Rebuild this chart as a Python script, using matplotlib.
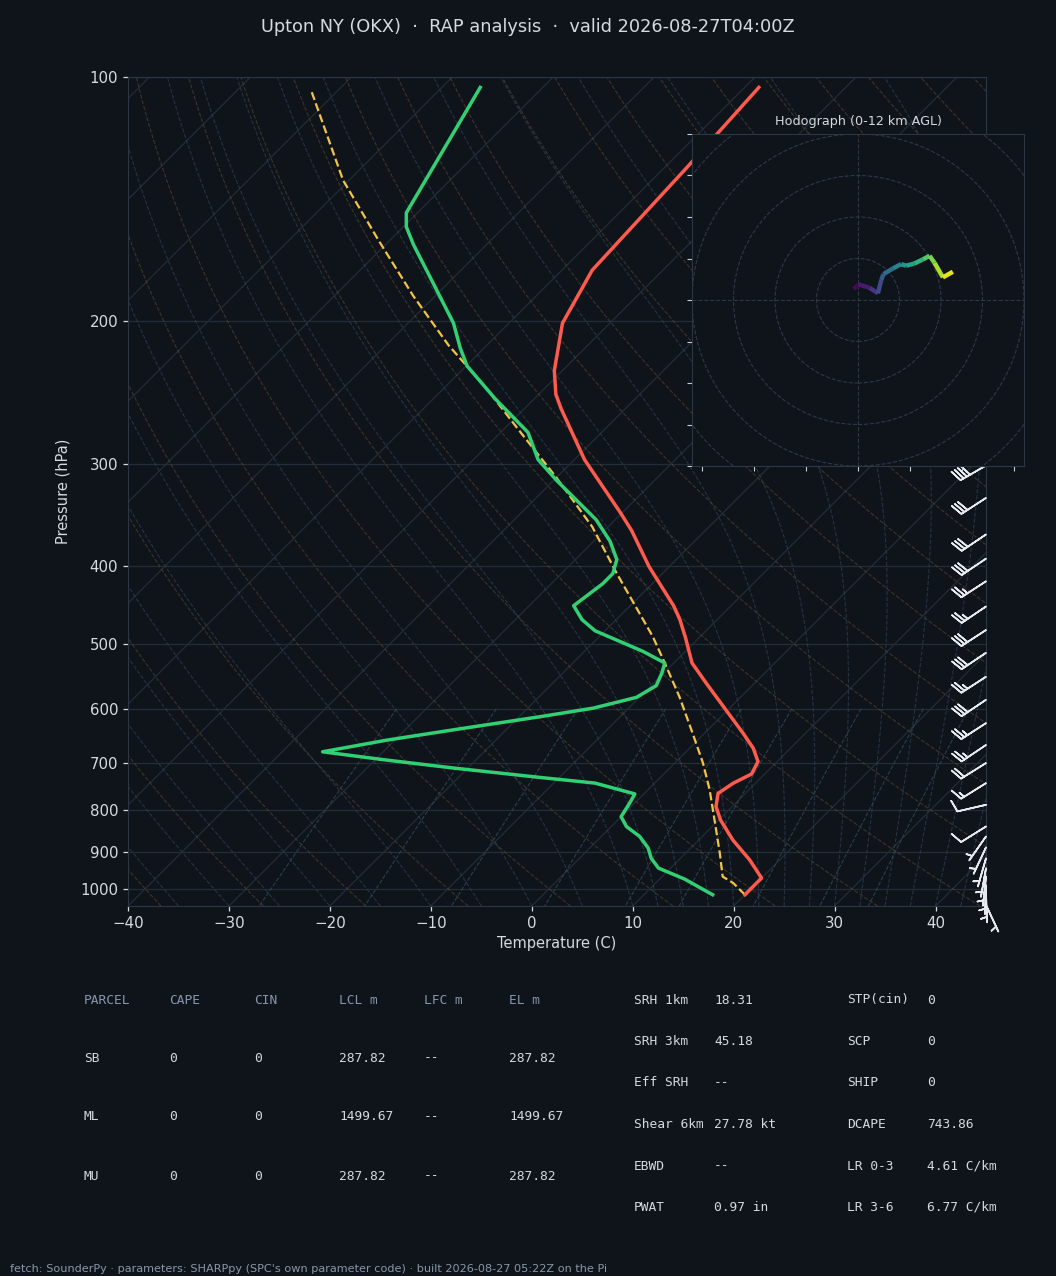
import numpy as np
import matplotlib
matplotlib.use('Agg')
import matplotlib.pyplot as plt
from matplotlib import transforms
from matplotlib.collections import LineCollection
from matplotlib.patches import Circle

BG = '#0f141b'
FG = '#d5dae0'
MUTED = '#8797ab'
FOOT = '#8a97a8'
GRID = '#232c37'
SPINE = '#2d3744'

FIG_W, FIG_H = 1056, 1276
AX_L, AX_R, AX_T, AX_B = 128, 986, 77, 906      # skew-T box in pixels
HODO_L, HODO_T, HODO_S = 692, 134, 332          # hodograph box in pixels

P_BOT, P_TOP = 1050., 100.
T_MIN, T_MAX = -40., 45.

title = "Upton NY (OKX)  \u00b7  RAP analysis  \u00b7  valid 2026-08-27T04:00Z"
footer = ("fetch: SounderPy \u00b7 parameters: SHARPpy (SPC's own parameter code) "
          "\u00b7 built 2026-08-27 05:22Z on the Pi")

# ---- sounding (hPa, degC) ----
t_pres = [1017, 970, 921, 871, 823, 792, 763, 741, 722, 697, 671, 643, 602, 558,
          527, 490, 466, 448, 401, 362, 344, 296, 256, 246, 230, 201, 173, 129, 103]
t_vals = [20.0, 20.0, 17.0, 13.4, 10.2, 8.4, 7.3, 7.8, 8.7, 8.1, 6.3, 3.8, -0.2, -4.8,
          -8.2, -11.4, -13.7, -15.7, -22.0, -27.3, -30.2, -39.0, -46.4, -48.3, -50.8,
          -54.7, -57.0, -57.8, -58.6]

td_pres = [1017, 973, 943, 917, 891, 862, 838, 815, 784, 764, 741, 729, 710, 694, 678,
           656, 637, 614, 599, 581, 562, 542, 527, 510, 481, 466, 448, 421, 409, 393,
           373, 351, 314, 296, 274, 249, 227, 216, 201, 178, 161, 153, 147, 103]
td_vals = [16.8, 12.5, 8.8, 7.1, 5.8, 3.8, 1.5, 0.0, -0.5, -0.9, -5.9, -12.0, -21.4,
           -28.9, -36.0, -30.8, -25.2, -18.0, -13.5, -10.3, -9.5, -10.2, -10.9, -14.2,
           -21.0, -23.4, -25.6, -24.9, -24.9, -25.9, -28.4, -31.9, -39.7, -43.6, -47.3,
           -53.9, -59.9, -62.3, -65.5, -71.9, -77.2, -79.7, -81.1, -86.2]

parcel_pres = [1017, 984, 966, 904, 823, 755, 700, 643, 580, 527, 489, 409, 358, 311,
               275, 241, 214, 186, 159, 134, 104]
parcel_vals = [20.0, 17.7, 16.0, 13.4, 9.6, 6.1, 2.8, -1.2, -6.1, -10.9, -14.7, -24.5,
               -31.6, -40.1, -47.8, -56.0, -63.8, -72.2, -81.1, -90.6, -102.6]

# wind barbs (hPa, kt, deg from)
barb_pres = [301, 330, 366, 392, 418, 449, 480, 512, 548, 585, 625, 665, 700, 741,
             788, 838, 862, 889, 917, 943, 966, 989, 1012, 1047]
barb_spd = [40, 30, 30, 30, 25, 25, 30, 30, 25, 30, 25, 25, 20, 15,
            10, 10, 5, 5, 5, 5, 5, 5, 5, 5]
barb_dir = [240, 237, 236, 236, 237, 236, 237, 236, 237, 236, 237, 236, 238, 238,
            257, 238, 215, 205, 196, 190, 186, 182, 178, 155]

# hodograph trace (kt) and height (km AGL)
hodo_u = [-2.1, 0.3, 5.6, 9.6, 11.2, 12.3, 16.8, 20.8, 23.2, 27.2, 31.3, 34.5, 36.9, 40.9, 45.7]
hodo_v = [5.3, 7.5, 5.9, 3.2, 9.6, 12.5, 15.2, 17.3, 16.5, 17.6, 19.6, 21.3, 17.9, 10.9, 13.6]
hodo_z = [0.0, 0.4, 1.3, 2.4, 3.0, 3.6, 4.8, 6.0, 6.6, 7.3, 8.2, 9.3, 10.0, 11.0, 12.0]

# ---- parameter tables ----
parcel_head = ['PARCEL', 'CAPE', 'CIN', 'LCL m', 'LFC m', 'EL m']
parcel_rows = [['SB', '0', '0', '287.82', '--', '287.82'],
               ['ML', '0', '0', '1499.67', '--', '1499.67'],
               ['MU', '0', '0', '287.82', '--', '287.82']]
kin_labels = ['SRH 1km', 'SRH 3km', 'Eff SRH', 'Shear 6km', 'EBWD', 'PWAT']
kin_values = ['18.31', '45.18', '--', '27.78 kt', '--', '0.97 in']
cmp_labels = ['STP(cin)', 'SCP', 'SHIP', 'DCAPE', 'LR 0-3', 'LR 3-6']
cmp_values = ['0', '0', '0', '743.86', '4.61 C/km', '6.77 C/km']


def fx(px):
    return px / FIG_W


def fy(py):
    return 1 - py / FIG_H


# degrees of skew per decade of pressure, so isotherms run at 45 deg on screen
K = ((AX_B - AX_T) / np.log10(P_BOT / P_TOP)) / ((AX_R - AX_L) / (T_MAX - T_MIN))


def skew(t, p):
    return np.asarray(t, float) + K * np.log10(P_BOT / np.asarray(p, float))


def sat_vp(tc):
    return 6.112 * np.exp(17.67 * tc / (tc + 243.5))


def moist_curves(t0, pp):
    Rd, Cp, Lv, eps = 287.04, 1005.7, 2.501e6, 0.622

    def dtdp(T, p):
        es = sat_vp(T - 273.15)
        rs = eps * es / (p - es)
        return (Rd * T + Lv * rs) / (p * (Cp + Lv ** 2 * rs * eps / (Rd * T ** 2)))

    T = np.asarray(t0, float) + 273.15
    out = [T.copy()]
    for p0, p1 in zip(pp[:-1], pp[1:]):
        dp = p1 - p0
        k1 = dtdp(T, p0)
        k2 = dtdp(T + 0.5 * dp * k1, p0 + 0.5 * dp)
        T = T + dp * k2
        out.append(T.copy())
    return np.array(out).T - 273.15


plt.rcParams['font.family'] = ['DejaVu Sans']
fig = plt.figure(figsize=(FIG_W / 100, FIG_H / 100), dpi=100, facecolor=BG)

ax = fig.add_axes([fx(AX_L), fy(AX_B), fx(AX_R - AX_L), (AX_B - AX_T) / FIG_H])
ax.set_facecolor(BG)
ax.set_yscale('log')
ax.set_ylim(P_BOT, P_TOP)
ax.set_xlim(T_MIN, T_MAX)

pp = np.logspace(np.log10(P_BOT), np.log10(P_TOP), 220)

# isotherms
for t in np.arange(-130, 50, 10):
    ax.plot(skew(t, pp), pp, color=GRID, lw=0.9, zorder=1)
# isobars
for p in range(100, 1001, 100):
    ax.axhline(p, color=GRID, lw=0.9, zorder=1)

# dry adiabats
for t0 in np.arange(-50, 201, 10):
    tt = (t0 + 273.15) * (pp / 1000.) ** 0.2857 - 273.15
    ax.plot(skew(tt, pp), pp, color='#6a5236', lw=0.8, ls='--', alpha=0.5, zorder=1)

# moist adiabats
moist_t0 = np.concatenate((np.arange(-50., 10.1, 5.), np.arange(12.5, 45.1, 2.5)))
for tt in moist_curves(moist_t0, pp):
    ax.plot(skew(tt, pp), pp, color='#34465a', lw=0.8, ls='--', alpha=0.6, zorder=1)

# mixing ratio lines
pm = np.linspace(600, P_BOT, 60)
for w in [0.0004, 0.001, 0.002, 0.004, 0.007, 0.01, 0.016, 0.024, 0.032]:
    e = w * pm / (0.622 + w)
    ln = np.log(e / 6.112)
    td = 243.5 * ln / (17.67 - ln)
    ax.plot(skew(td, pm), pm, color='#2f4a55', lw=0.8, ls='--', alpha=0.8, zorder=1)

ax.plot(skew(parcel_vals, parcel_pres), parcel_pres, color='#f4c542', lw=1.6,
        ls='--', zorder=4)
ax.plot(skew(t_vals, t_pres), t_pres, color='#ff5b4c', lw=2.5, zorder=5)
ax.plot(skew(td_vals, td_pres), td_pres, color='#31d074', lw=2.5, zorder=5)

# wind barbs along the right edge
d = np.radians(barb_dir)
bu = -np.array(barb_spd) * np.sin(d)
bv = -np.array(barb_spd) * np.cos(d)
trans = transforms.blended_transform_factory(ax.transAxes, ax.transData)
ax.barbs(np.ones(len(barb_pres)), barb_pres, bu, bv, transform=trans, clip_on=False,
         length=6.5, color='#e6e9ee', linewidth=1.2, zorder=6)

p_ticks = list(range(100, 1001, 100))
ax.set_yticks(p_ticks, labels=[str(p) for p in p_ticks])
ax.yaxis.set_minor_locator(matplotlib.ticker.NullLocator())
ax.set_xticks(np.arange(-40, 41, 10))
ax.tick_params(colors=FG, labelsize=10.8, length=3.5, width=0.9)
for s in ax.spines.values():
    s.set_color(SPINE)
ax.set_xlabel('Temperature (C)', color=FG, fontsize=10.5)
ax.set_ylabel('Pressure (hPa)', color=FG, fontsize=10.5)
ax.xaxis.set_label_coords(0.5, -(936 - AX_B) / (AX_B - AX_T))
ax.yaxis.set_label_coords((70 - AX_L) / (AX_R - AX_L), 0.5)

# hodograph
hx = fig.add_axes([fx(HODO_L), fy(HODO_T + HODO_S), HODO_S / FIG_W, HODO_S / FIG_H])
hx.set_facecolor(BG)
hx.set_xlim(-80, 80)
hx.set_ylim(-80, 80)
for r in range(20, 121, 20):
    hx.add_patch(Circle((0, 0), r, fill=False, ec='#2d3846', lw=0.8, ls='--'))
hx.axhline(0, color='#2d3846', lw=0.8, ls='--')
hx.axvline(0, color='#2d3846', lw=0.8, ls='--')
pts = np.column_stack([hodo_u, hodo_v])
segs = np.stack([pts[:-1], pts[1:]], axis=1)
zmid = 0.5 * (np.array(hodo_z[:-1]) + np.array(hodo_z[1:]))
lc = LineCollection(segs, cmap='viridis', norm=plt.Normalize(0, 12), linewidths=3.2)
lc.set_array(zmid)
hx.add_collection(lc)
hx.set_xticks(np.arange(-75, 76, 25))
hx.set_yticks(np.arange(-80, 81, 20))
hx.tick_params(colors='#c9ced6', labelleft=False, labelbottom=False, length=3.5, width=0.8)
for s in hx.spines.values():
    s.set_color(SPINE)
hx.set_title('Hodograph (0-12 km AGL)', color=FG, fontsize=9.2, pad=6.8)

fig.text(0.5, fy(27), title, color=FG, fontsize=12.8, ha='center', va='center')

# tables
mono = 'DejaVu Sans Mono'
col_x = [84, 169, 254, 339, 424, 509]
row_y = [1000, 1058, 1117, 1176]
for x, h in zip(col_x, parcel_head):
    fig.text(fx(x), fy(row_y[0]), h, color=MUTED, family=mono, fontsize=9.3, va='center')
for y, row in zip(row_y[1:], parcel_rows):
    for x, cell in zip(col_x, row):
        fig.text(fx(x), fy(y), cell, color=FG, family=mono, fontsize=9.3, va='center')

kin_y = [1000, 1041.5, 1083, 1124.5, 1166, 1207.5]
for y, lab, val, lab2, val2 in zip(kin_y, kin_labels, kin_values, cmp_labels, cmp_values):
    fig.text(fx(634), fy(y), lab, color=FG, family=mono, fontsize=9.3, va='center')
    fig.text(fx(714), fy(y), val, color=FG, family=mono, fontsize=9.3, va='center')
    fig.text(fx(847), fy(y), lab2, color=FG, family=mono, fontsize=9.3, va='center')
    fig.text(fx(927), fy(y), val2, color=FG, family=mono, fontsize=9.3, va='center')

fig.text(fx(10), fy(1269), footer, color=FOOT, fontsize=8.1, va='center')

fig.savefig('out.png', dpi=100, facecolor=BG)
